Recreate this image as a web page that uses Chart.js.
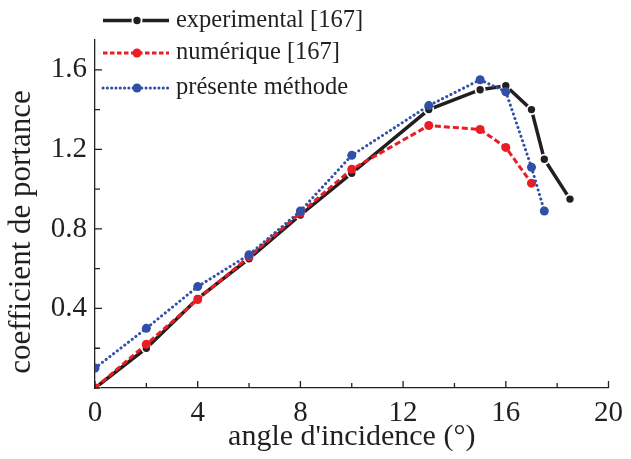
<!DOCTYPE html>
<html lang="fr">
<head>
  <meta charset="UTF-8">
  <title>Coefficient de portance</title>
  <script src="https://cdn.jsdelivr.net/npm/chart.js"></script>
  <style>
    html, body { margin: 0; padding: 0; background: #fff; }
    #wrap { width: 631px; height: 459px; }
  </style>
</head>
<body>
  <div id="wrap"><canvas id="chart"></canvas></div>
  <script>
    // values
    const expAngles = [0, 2, 4, 6, 8, 10, 13, 15, 16, 17, 17.5, 18.5];
    const expCl     = [0, 0.20, 0.45, 0.65, 0.87, 1.08, 1.40, 1.50, 1.52, 1.40, 1.15, 0.95];
    const numAngles = [0, 2, 4, 6, 8, 10, 13, 15, 16, 17];
    const numCl     = [0, 0.22, 0.445, 0.66, 0.88, 1.10, 1.32, 1.30, 1.21, 1.03];
    const preAngles = [0, 2, 4, 6, 8, 10, 13, 15, 16, 17, 17.5];
    const preCl     = [0.10, 0.30, 0.51, 0.67, 0.89, 1.17, 1.42, 1.55, 1.49, 1.11, 0.89];
    const seriesNames = ['experimental [167]', 'numérique [167]', 'présente méthode'];
    const xTickLabels = [0, 4, 8, 12, 16, 20];
    const yTickLabels = [0.4, 0.8, 1.2, 1.6];
    const yTitle = 'coefficient de portance';

    const serif = '"Liberation Serif", "DejaVu Serif", serif';
    const ink = '#231f20';
    const toPts = (xs, ys) => xs.map((x, i) => ({ x: x, y: ys[i] }));

    // ticks drawn inward, like the original figure
    const inwardTicks = {
      id: 'inwardTicks',
      afterDraw(chart) {
        const ctx = chart.ctx;
        const xs = chart.scales.x, ys = chart.scales.y;
        const a = chart.chartArea;
        ctx.save();
        ctx.strokeStyle = ink;
        ctx.lineWidth = 1.3;
        ctx.beginPath();
        xs.ticks.forEach(t => {
          const px = xs.getPixelForValue(t.value);
          const len = xTickLabels.includes(t.value) ? 7 : 5;
          ctx.moveTo(px, a.bottom);
          ctx.lineTo(px, a.bottom - len);
        });
        ys.ticks.forEach(t => {
          const py = ys.getPixelForValue(t.value);
          const major = yTickLabels.some(v => Math.abs(v - t.value) < 1e-6);
          ctx.moveTo(a.left, py);
          ctx.lineTo(a.left + (major ? 7 : 5), py);
        });
        ctx.stroke();

        // y title sits a bit below the middle of the axis in the original
        ctx.translate(22, 232);
        ctx.rotate(-Math.PI / 2);
        ctx.fillStyle = ink;
        ctx.font = '31px ' + serif;
        ctx.textAlign = 'center';
        ctx.textBaseline = 'middle';
        ctx.fillText(yTitle, 0, 0);
        ctx.restore();
      }
    };

    // legend in the top left corner
    const cornerLegend = {
      id: 'cornerLegend',
      afterDraw(chart) {
        const ctx = chart.ctx;
        const rows = [20.5, 53, 88];
        ctx.save();
        chart.data.datasets.slice().sort((p, q) => p.legendIndex - q.legendIndex).forEach((ds, i) => {
          const y = rows[i];
          ctx.strokeStyle = ds.borderColor;
          ctx.lineWidth = ds.borderWidth;
          ctx.lineCap = ds.borderCapStyle || 'butt';
          ctx.setLineDash(ds.legendDash || []);
          ctx.beginPath();
          ctx.moveTo(103, y);
          ctx.lineTo(169, y);
          ctx.stroke();
          ctx.setLineDash([]);
          ctx.beginPath();
          ctx.arc(137, y, ds.pointRadius, 0, Math.PI * 2);
          ctx.fillStyle = ds.pointBackgroundColor;
          ctx.fill();
          if (ds.pointBorderWidth) {
            ctx.lineWidth = ds.pointBorderWidth;
            ctx.strokeStyle = ds.pointBorderColor;
            ctx.stroke();
          }
          ctx.fillStyle = ink;
          ctx.font = '24.5px ' + serif;
          ctx.textBaseline = 'middle';
          ctx.fillText(ds.label, 176, y);
        });
        ctx.restore();
      }
    };

    new Chart(document.getElementById('chart'), {
      type: 'line',
      data: {
        datasets: [
          {
            label: seriesNames[2], legendIndex: 2, order: 0,
            data: toPts(preAngles, preCl),
            borderColor: '#2f50a6', backgroundColor: '#2f50a6',
            pointBackgroundColor: '#2f50a6', pointBorderWidth: 0,
            borderWidth: 3, borderDash: [0.1, 4.6], legendDash: [0.1, 4.2], borderCapStyle: 'round',
            pointRadius: 4.5, tension: 0
          },
          {
            label: seriesNames[1], legendIndex: 1, order: 1,
            data: toPts(numAngles, numCl),
            borderColor: '#ec1c24', backgroundColor: '#ec1c24',
            pointBackgroundColor: '#ec1c24', pointBorderWidth: 0,
            borderWidth: 3, borderDash: [6, 3], legendDash: [4.5, 2.5],
            pointRadius: 4.5, tension: 0
          },
          {
            label: seriesNames[0], legendIndex: 0, order: 2,
            data: toPts(expAngles, expCl),
            borderColor: ink, backgroundColor: ink,
            pointBackgroundColor: ink, pointBorderColor: '#ffffff', pointBorderWidth: 1.8,
            borderWidth: 3.5,
            pointRadius: 4.6, tension: 0
          }
        ]
      },
      options: {
        responsive: true,
        maintainAspectRatio: false,
        animation: false,
        layout: { padding: { left: 0, right: 18, top: 40, bottom: 0 } },
        plugins: { legend: { display: false }, tooltip: { enabled: false } },
        scales: {
          x: {
            type: 'linear', min: 0, max: 20,
            border: { display: true, color: ink, width: 1.3 },
            grid: { display: false, drawTicks: false },
            ticks: {
              stepSize: 2, padding: 8, color: ink, maxRotation: 0, autoSkip: false,
              font: { family: serif, size: 29 },
              callback: v => xTickLabels.includes(v) ? String(v) : ''
            },
            title: {
              display: true, text: "angle d'incidence (°)", color: ink,
              font: { family: serif, size: 30 }, padding: { top: 0, bottom: 4 }
            },
            afterFit: s => { s.height = 71; }
          },
          y: {
            min: 0, max: 1.75,
            border: { display: true, color: ink, width: 1.3 },
            grid: { display: false, drawTicks: false },
            ticks: {
              stepSize: 0.2, includeBounds: false, padding: 8, color: ink, autoSkip: false,
              font: { family: serif, size: 29 },
              callback: v => yTickLabels.some(t => Math.abs(t - v) < 1e-6) ? v.toFixed(1) : ''
            },
            afterFit: s => { s.width = 95; }
          }
        }
      },
      plugins: [inwardTicks, cornerLegend]
    });
  </script>
</body>
</html>
